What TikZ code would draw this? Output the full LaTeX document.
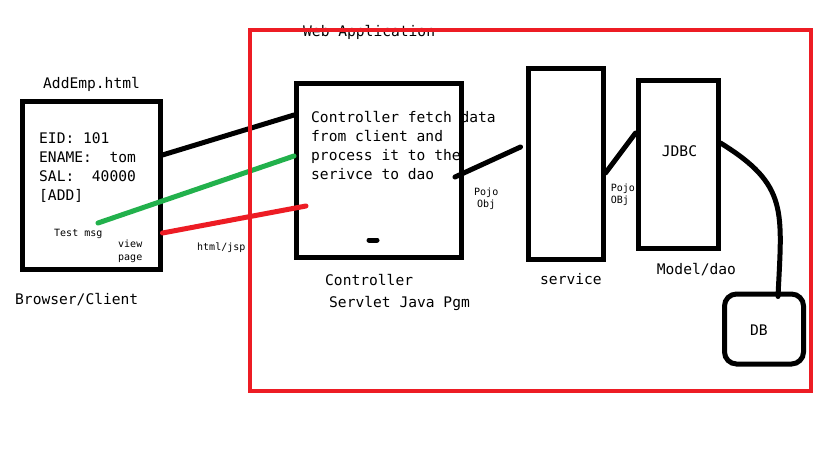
\documentclass[tikz,border=0pt]{standalone}
\usepackage{fontspec}
\setmonofont{DejaVu Sans Mono}
\definecolor{paintred}{HTML}{ED1C24}
\definecolor{paintgreen}{HTML}{22B14C}

\begin{document}
\begin{tikzpicture}[x=1pt, y=-1pt,
  box/.style={rectangle, draw=black, line width=5pt, inner sep=0pt},
  txt/.style={anchor=base west, inner sep=0pt, align=left, font=\ttfamily\fontsize{14.6}{19}\selectfont},
  tiny/.style={anchor=base west, inner sep=0pt, font=\ttfamily\fontsize{10}{12.7}\selectfont},
  wire/.style={line width=5pt, line cap=round}]
\useasboundingbox[fill=white] (0,0) rectangle (819,460);

% Title of the frame (the red frame is drawn last, over it)
\node[txt] (webtitle) at (303,37) {Web Application};

% Browser side (multi-line texts sit on their last baseline)
\node[txt] at (43,88.7) {AddEmp.html};
\node[box, minimum width=137.5pt, minimum height=168pt] (client) at (91.25,185.5) {};
\node[txt] (form) at (39,200.3) {EID: 101\\ENAME:~ tom\\SAL:~ 40000\\{}[ADD]};
\node[tiny] (testmsg) at (54,236) {Test msg};
\node[tiny, align=center] (viewpage) at (118,260) {view\\page};
\node[txt] at (15,304) {Browser/Client};
\node[tiny] (htmljsp) at (197,250) {html/jsp};

% Controller
\node[txt] (ctrltext) at (311,179.3) {Controller fetch data\\from client and\\process it to the\\serivce to dao};
\node[box, minimum width=165pt, minimum height=174.5pt] (controller) at (379,170.25) {};
\node[txt] at (325,285) {Controller};
\node[txt] at (329,307) {Servlet Java Pgm};
\node[tiny, align=center] (pojo1) at (474,207.7) {Pojo\\Obj};

% Service
\node[box, minimum width=75pt, minimum height=190pt] (service) at (565.5,164) {};
\node[txt] at (540,284) {service};
\node[tiny, align=left] (pojo2) at (610.7,203.7) {Pojo\\OBj};

% Model / dao
\node[box, minimum width=80pt, minimum height=168pt] (jdbc) at (678,164.5) {};
\node[txt] at (661.7,156.7) {JDBC};
\node[txt] at (656.7,274) {Model/dao};

% Database
\node[box, rounded corners=12pt, minimum width=79pt, minimum height=70pt] (db) at (764,329) {};
\node[txt] at (750,335.7) {DB};

% Lines
\coordinate (greenstart) at (98,223);
\coordinate (redend) at (306,206);
\coordinate (ctrlout) at (455,177);
\draw[wire] ([yshift=30.5pt]client.east) -- ([yshift=55.25pt]controller.west);
\draw[wire, paintgreen] (greenstart) -- ([yshift=14.25pt]controller.west);
\draw[wire, paintred] ([yshift=-47.5pt]client.east) -- (redend);
\draw[wire] (ctrlout) -- ([xshift=-5pt, yshift=17pt]service.west);
\draw[wire] ([yshift=-9pt]service.east) -- ([yshift=31.5pt]jdbc.west);
\draw[wire] ([yshift=21.5pt]jdbc.east) .. controls +(68,42) and +(4,-86) .. ([xshift=14pt, yshift=-5pt]db.north);
\draw[wire] (369,240) -- (377,240);

% Red frame
\node[rectangle, draw=paintred, line width=4pt, inner sep=0pt, minimum width=561pt, minimum height=361pt] (webapp) at (530.5,210.5) {};
\end{tikzpicture}
\end{document}
